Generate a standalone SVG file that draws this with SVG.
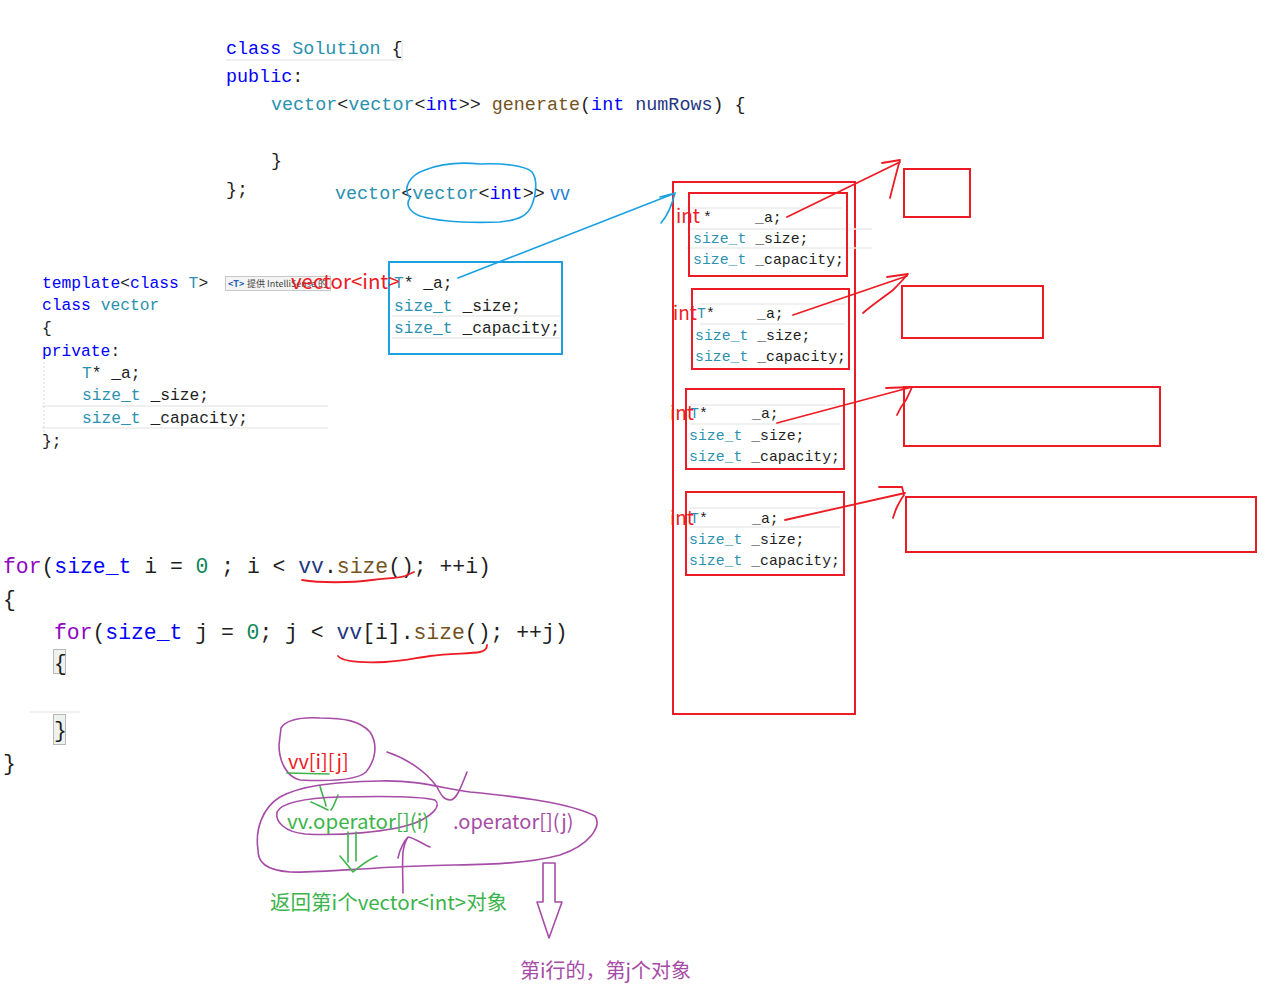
<svg xmlns="http://www.w3.org/2000/svg" width="1268" height="985" viewBox="0 0 1268 985">
<style>
.code{font-family:"Liberation Mono","DejaVu Sans Mono",monospace;white-space:pre;fill:#1e1e1e}
.c1{font-size:18.4px}.c2{font-size:16.3px}.c3{font-size:14.8px}.c4{font-size:21.4px}
.kw{fill:#0000ff}.ty{fill:#2b91af}.fn{fill:#74531f}.pu{fill:#8f08c4}.nu{fill:#098658}.va{fill:#1f377f}
.hand{font-family:"Noto Sans CJK SC","Noto Sans",sans-serif;white-space:pre}
.rtext{fill:#ed1c24}.gtext{fill:#3cb44b}.ptext{fill:#a64ca6}
.rs{stroke:#ed1c24;fill:none;stroke-width:2}
.rl{stroke:#ed1c24;fill:none;stroke-width:1.8;stroke-linecap:round;stroke-linejoin:round}
.bs{stroke:#1ba1e2;fill:none;stroke-width:2}
.bl{stroke:#1ba1e2;fill:none;stroke-width:1.6;stroke-linecap:round}
.ps{stroke:#a64ca6;fill:none;stroke-width:1.6;stroke-linecap:round;stroke-linejoin:round}
.gs{stroke:#3cb44b;fill:none;stroke-width:1.6;stroke-linecap:round;stroke-linejoin:round}
.ide{stroke:#ebebeb;stroke-width:1.5;fill:none}
</style>
<rect width="1268" height="985" fill="#ffffff"/>

<g id="solution-code">
<path class="ide" d="M226,60 L402,60 L402,40"/>
<text class="code c1" x="226" y="54"><tspan class="kw">class</tspan> <tspan class="ty">Solution</tspan> {</text>
<text class="code c1" x="226" y="82"><tspan class="kw">public</tspan>:</text>
<text class="code c1" x="271" y="110"><tspan class="ty">vector</tspan>&lt;<tspan class="ty">vector</tspan>&lt;<tspan class="kw">int</tspan>&gt;&gt; <tspan class="fn">generate</tspan>(<tspan class="kw">int</tspan> <tspan class="va">numRows</tspan>) {</text>
<text class="code c1" x="271" y="166">}</text>
<text class="code c1" x="226" y="195">};</text>
</g>

<g id="vv-decl">
<text class="code c1" x="335" y="199"><tspan class="ty">vector</tspan>&lt;<tspan class="ty">vector</tspan>&lt;<tspan class="kw">int</tspan>&gt;&gt;</text>
<text class="hand" x="550" y="200" font-size="19" fill="#1e7fd8">vv</text>
<path class="bl" d="M410,198 C402,188 410,175 425,170 C440,164 460,162 480,164 C500,163 525,165 532,172 C538,180 536,195 532,205 C528,215 520,220 500,222 C470,223 440,222 420,216 C410,212 405,205 410,198"/>
</g>

<g id="template-code">
<path class="ide" d="M42,406 L328,406 M42,428 L328,428"/>
<path d="M44,362 L44,432" stroke="#d8d8d8" stroke-width="1" stroke-dasharray="2,2"/>
<text class="code c2" x="42" y="288"><tspan class="kw">template</tspan>&lt;<tspan class="kw">class</tspan> <tspan class="ty">T</tspan>&gt;</text>
<text class="code c2" x="42" y="310"><tspan class="kw">class</tspan> <tspan class="ty">vector</tspan></text>
<text class="code c2" x="42" y="333">{</text>
<text class="code c2" x="42" y="356"><tspan class="kw">private</tspan>:</text>
<text class="code c2" x="82" y="378"><tspan class="ty">T</tspan>* _a;</text>
<text class="code c2" x="82" y="400"><tspan class="ty">size_t</tspan> _size;</text>
<text class="code c2" x="82" y="423"><tspan class="ty">size_t</tspan> _capacity;</text>
<text class="code c2" x="42" y="446">};</text>
<rect x="225.5" y="276.5" width="105" height="14" fill="#f4f4f4" stroke="#c8c8c8" stroke-width="1"/>
<text x="228" y="287" font-family="'Noto Sans CJK SC','Noto Sans',sans-serif" font-size="9" font-weight="bold" fill="#1e5fb4">&lt;T&gt;</text>
<text x="247" y="287" font-family="'Noto Sans CJK SC','Noto Sans',sans-serif" font-size="9" fill="#444">提供 IntelliSense 的</text>
</g>

<g id="blue-box">
<rect class="bs" x="389" y="262" width="173" height="92"/>
<path class="ide" d="M392,316 L560,316 M392,338 L560,338"/>
<text class="code c2" x="394" y="288"><tspan class="ty">T</tspan>* _a;</text>
<text class="code c2" x="394" y="311"><tspan class="ty">size_t</tspan> _size;</text>
<text class="code c2" x="394" y="333"><tspan class="ty">size_t</tspan> _capacity;</text>
<text class="hand rtext" x="291" y="289" font-size="20.5">vector&lt;int&gt;</text>
</g>

<g id="outer-vector">
<rect class="rs" x="673" y="182" width="182" height="532"/>
</g>

<g id="row1">
<path class="ide" d="M687,208 L843,208 M687,229 L872,229 M687,248 L872,248"/>
<rect class="rs" x="689" y="193" width="158" height="83"/>
<text class="code c3" x="703" y="222">*</text>
<text class="code c3" x="755" y="222">_a;</text>
<text class="code c3" x="693" y="243"><tspan class="ty">size_t</tspan> _size;</text>
<text class="code c3" x="693" y="264"><tspan class="ty">size_t</tspan> _capacity;</text>
<text class="hand rtext" x="676" y="223" font-size="19">int</text>
<rect class="rs" x="904" y="169" width="66" height="48"/>
</g>

<g id="row2">
<path class="ide" d="M700,304 L845,304 M700,324 L845,324"/>
<rect class="rs" x="692" y="289" width="157" height="80"/>
<text class="code c3" x="697" y="318"><tspan class="ty">T</tspan>*</text>
<text class="code c3" x="757" y="318">_a;</text>
<text class="code c3" x="695" y="340"><tspan class="ty">size_t</tspan> _size;</text>
<text class="code c3" x="695" y="361"><tspan class="ty">size_t</tspan> _capacity;</text>
<text class="hand rtext" x="673" y="320" font-size="19">int</text>
<rect class="rs" x="902" y="286" width="141" height="52"/>
</g>

<g id="row3">
<path class="ide" d="M690,405 L840,405 M690,424 L840,424"/>
<rect class="rs" x="686" y="389" width="158" height="80"/>
<text class="code c3" x="690" y="418"><tspan class="ty">T</tspan>*</text>
<text class="code c3" x="752" y="418">_a;</text>
<text class="code c3" x="689" y="440"><tspan class="ty">size_t</tspan> _size;</text>
<text class="code c3" x="689" y="461"><tspan class="ty">size_t</tspan> _capacity;</text>
<text class="hand rtext" x="670" y="420" font-size="19">int</text>
<rect class="rs" x="904" y="387" width="256" height="59"/>
</g>

<g id="row4">
<path class="ide" d="M690,508 L840,508 M690,527 L840,527"/>
<rect class="rs" x="686" y="492" width="158" height="83"/>
<text class="code c3" x="690" y="523"><tspan class="ty">T</tspan>*</text>
<text class="code c3" x="752" y="523">_a;</text>
<text class="code c3" x="689" y="544"><tspan class="ty">size_t</tspan> _size;</text>
<text class="code c3" x="689" y="565"><tspan class="ty">size_t</tspan> _capacity;</text>
<text class="hand rtext" x="670" y="525" font-size="19">int</text>
<rect class="rs" x="906" y="497" width="350" height="55"/>
</g>

<g id="loop-code">
<text class="code c4" x="3" y="573"><tspan class="pu">for</tspan>(<tspan class="kw">size_t</tspan> i = <tspan class="nu">0</tspan> ; i &lt; <tspan class="va">vv</tspan>.<tspan class="fn">size</tspan>(); ++i)</text>
<text class="code c4" x="3" y="606">{</text>
<text class="code c4" x="54" y="639"><tspan class="pu">for</tspan>(<tspan class="kw">size_t</tspan> j = <tspan class="nu">0</tspan>; j &lt; <tspan class="va">vv</tspan>[i].<tspan class="fn">size</tspan>(); ++j)</text>
<rect x="53.5" y="649.5" width="12" height="24" fill="#eef2ee" stroke="#b8b8b8" stroke-width="1"/>
<text class="code c4" x="54" y="670">{</text>
<path class="ide" d="M30,712 L80,712"/>
<rect x="53.5" y="714.5" width="12" height="30" fill="#eef2ee" stroke="#b8b8b8" stroke-width="1"/>
<text class="code c4" x="54" y="737">}</text>
<text class="code c4" x="3" y="770">}</text>
<path class="rl" d="M302,580 C320,583 350,583 372,580 C390,578 400,578 405,576 L414,572"/>
<path class="rl" d="M338,656 C342,661 360,663 385,662 C405,661 415,658 430,656 C450,653 470,654 480,652 C485,651 487,648 487,645"/>
</g>

<g id="annotation">
<path class="ps" d="M281,728 C286,720 300,717 320,718 C345,718 360,721 370,732 C378,744 376,760 366,772 C355,782 320,781 300,780 C286,777 279,760 279,745 Z"/>
<text class="hand rtext" x="288" y="769" font-size="20">vv[i][j]</text>
<path class="gs" d="M287,773 L329,774"/>
<path class="gs" d="M320,786 C322,795 325,800 326,806 M311,802 C318,805 324,808 328,810 M338,795 C336,800 334,806 331,810"/>
<path class="ps" d="M258,850 C255,830 262,808 280,797 C300,786 330,782 380,781 C420,780 440,788 470,792 C520,797 570,803 595,816 C602,826 590,845 560,855 C520,866 470,864 420,866 C360,868 320,873 290,872 C265,870 258,862 258,850 Z"/>
<path class="ps" d="M277,812 C282,802 305,798 340,797 C380,796 420,796 435,800 C442,806 432,816 415,823 C390,832 340,836 305,834 C285,832 275,822 277,812 Z"/>
<path class="ps" d="M387,752 C405,758 425,770 437,787 C441,795 444,800 450,800 C456,800 460,790 467,772"/>
<text class="hand gtext" x="287" y="829" font-size="20.5">vv.operator[](i)</text>
<text class="hand ptext" x="453" y="829" font-size="20">.operator[](j)</text>
<path class="gs" d="M348,832 L348,862 M356,832 L356,861 M340,856 C345,862 350,868 353,872 C360,866 368,860 377,856"/>
<path class="ps" d="M403,893 C403,880 402,865 403,852 C404,845 406,840 408,837 M398,858 C400,848 405,840 408,837 C415,838 422,844 430,847"/>
<text class="hand gtext" x="270" y="910" font-size="20.5">返回第i个vector&lt;int&gt;对象</text>
<polygon class="ps" points="543,863 555,863 555,902 562,902 549,938 537,902 543,902"/>
<text class="hand ptext" x="520" y="978" font-size="20">第i行的，第j个对象</text>
</g>

<g id="connectors">
<path class="bl" d="M458,278 L673,194 M660,197 L675,193 C672,205 668,215 661,223"/>
<path class="rl" d="M787,217 L900,162 M882,163 L900,160 C897,170 894,182 890,198"/>
<path class="rl" d="M793,315 L907,276 M887,277 L908,274 C902,281 897,286 893,290 C884,297 872,305 863,313"/>
<path class="rl" d="M777,423 L912,387 M886,388 L912,387 C910,392 908,396 906,400 C902,405 899,410 897,415"/>
<path class="rl" d="M785,520 L905,493 M879,487 L902,487 L904,495 C901,499 899,503 897,507 C895,511 894,515 893,518"/>
</g>
</svg>
